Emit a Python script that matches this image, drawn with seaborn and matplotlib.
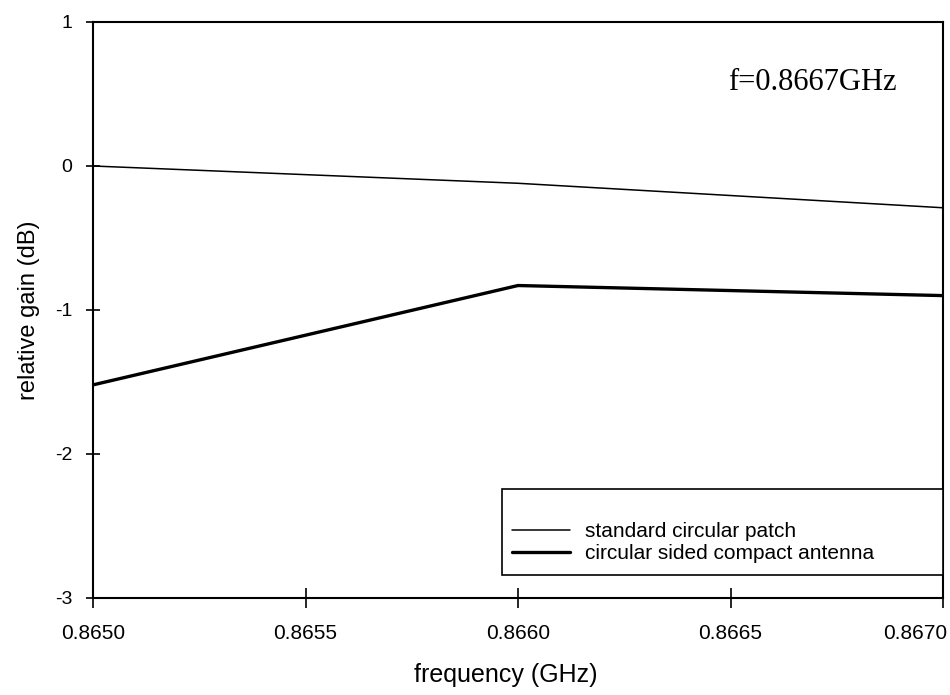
import matplotlib
matplotlib.use("Agg")
import matplotlib.pyplot as plt
import matplotlib.transforms as mtransforms
from matplotlib.patches import Rectangle
from matplotlib.lines import Line2D
import seaborn as sns
import pandas as pd

freq = [0.8650, 0.8660, 0.8670]
standard_gain = [0.0, -0.12, -0.29]
compact_gain = [-1.52, -0.83, -0.90]
series_names = ["standard circular patch", "circular sided compact antenna"]
x_ticks = [0.8650, 0.8655, 0.8660, 0.8665, 0.8670]
y_ticks = [-3, -2, -1, 0, 1]

df = pd.DataFrame({
    "freq": freq * 2,
    "gain": standard_gain + compact_gain,
    "series": [series_names[0]] * 3 + [series_names[1]] * 3,
})

sns.set_theme(style="white")
plt.rcParams["font.family"] = ["Liberation Sans", "DejaVu Sans"]
plt.rcParams.update({"text.color": "black", "axes.labelcolor": "black",
                     "xtick.color": "black", "ytick.color": "black"})

fig = plt.figure(figsize=(9.5, 6.95), dpi=100)
ax = fig.add_axes([93/950, 1 - 598/695, (943-93)/950, (598-22)/695])

lw_std, lw_cmp = 1.1, 2.4
sns.lineplot(data=df, x="freq", y="gain", hue="series", size="series",
             sizes={series_names[0]: lw_std, series_names[1]: lw_cmp},
             palette={series_names[0]: "black", series_names[1]: "black"},
             ax=ax, legend=False)

ax.set_xlim(0.8650, 0.8670)
ax.set_ylim(-3, 1)
ax.set_xticks(x_ticks)
ax.set_xticklabels([f"{v:.4f}" for v in x_ticks], fontsize=15, color="black")
ax.set_yticks(y_ticks)
ax.set_yticklabels([str(v) for v in y_ticks], fontsize=14, color="black")
ax.tick_params(axis="x", direction="inout", length=14, width=1.2, color="black",
               bottom=True, pad=12)
ax.tick_params(axis="y", direction="inout", length=10, width=1.2, color="black",
               left=True, pad=10)
last = ax.get_xticklabels()[-1]
last.set_horizontalalignment("right")
last.set_transform(last.get_transform() +
                   mtransforms.ScaledTranslation(4/100, 0, fig.dpi_scale_trans))
for s in ax.spines.values():
    s.set_color("black")
    s.set_linewidth(1.5)

ax.set_xlabel("frequency (GHz)", fontsize=18, color="black")
ax.set_ylabel("relative gain (dB)", fontsize=17, color="black")
ax.xaxis.set_label_coords((506-93)/850, -(663-598)/576)
ax.yaxis.set_label_coords(-(93-40)/850, 0.5)

ax.text((897-93)/850, 1 - (82-22)/576, "f=0.8667GHz", transform=ax.transAxes,
        ha="right", va="center", fontsize=22, color="black",
        family=["Liberation Serif", "DejaVu Serif"])

# legend frame
ax.add_patch(Rectangle(((502-93)/850, (598-575)/576), (943-502)/850, (575-489)/576,
                       transform=ax.transAxes, facecolor="white", edgecolor="black",
                       linewidth=1.2, zorder=4))
handles = [Line2D([], [], color="black", lw=lw_std), Line2D([], [], color="black", lw=lw_cmp)]
leg = ax.legend(handles, series_names, loc="upper left",
                bbox_to_anchor=((512-93)/850, 1 - (522-22)/576),
                fontsize=15, frameon=False, borderaxespad=0, borderpad=0,
                handlelength=2.8, handletextpad=0.7, labelspacing=0.15)
for t in leg.get_texts():
    t.set_color("black")
leg.set_zorder(5)

fig.savefig("out.png", dpi=100)
